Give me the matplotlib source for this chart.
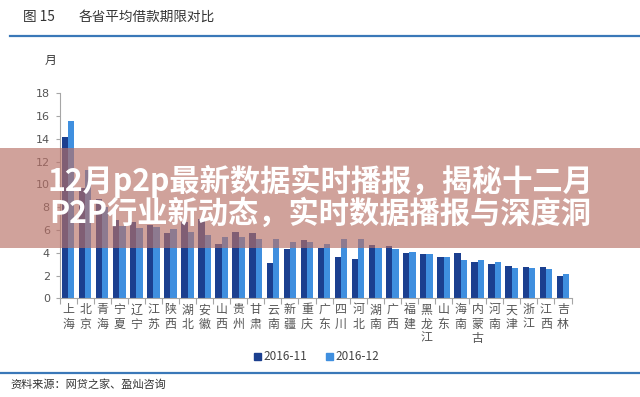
import matplotlib
matplotlib.use("Agg")
import matplotlib.pyplot as plt
import numpy as np
from matplotlib.patches import Rectangle
from matplotlib.lines import Line2D

plt.rcParams['font.family'] = ['Noto Sans CJK SC', 'DejaVu Sans']

provinces = ["上海", "北京", "青海", "宁夏", "辽宁", "江苏", "陕西", "湖北", "安徽", "山西",
             "贵州", "甘肃", "云南", "新疆", "重庆", "广东", "四川", "河北", "湖南", "广西",
             "福建", "黑龙江", "山东", "海南", "内蒙古", "河南", "天津", "浙江", "江西", "吉林"]
nov_2016 = [14.2, 9.7, 8.7, 6.9, 6.7, 6.4, 5.7, 6.7, 7.0, 4.8,
            5.85, 5.7, 3.1, 4.3, 5.1, 4.45, 3.6, 3.45, 4.65, 4.6,
            4.0, 3.85, 3.6, 3.95, 3.2, 3.0, 2.8, 2.75, 2.75, 1.95]
dec_2016 = [15.6, 11.3, 8.0, 6.35, 6.2, 6.3, 6.1, 5.85, 5.55, 5.4,
            5.35, 5.25, 5.2, 4.95, 4.9, 4.8, 5.2, 5.2, 4.4, 4.3,
            4.05, 3.85, 3.6, 3.4, 3.35, 3.2, 2.7, 2.7, 2.6, 2.15]
series_names = ["2016-11", "2016-12"]
y_ticks = [0, 2, 4, 6, 8, 10, 12, 14, 16, 18]

W, H = 640, 397
fig = plt.figure(figsize=(W / 100, H / 100), dpi=100)
fig.patch.set_facecolor('white')

def fx(px):
    return px / W

def fy(py):
    return 1 - py / H

ax = fig.add_axes([fx(59.5), fy(298.3), fx(512), (298.3 - 93.3) / H])
x = np.arange(len(provinces))
bw = 0.37
c_dark = '#1b3f8f'
c_light = '#3f8fdf'
ax.bar(x - bw / 2, nov_2016, width=bw, color=c_dark, zorder=2)
ax.bar(x + bw / 2, dec_2016, width=bw, color=c_light, zorder=2)

ax.set_xlim(-0.5, len(provinces) - 0.5)
ax.set_ylim(0, 18)
ax.set_yticks(y_ticks)
ax.set_yticklabels([str(v) for v in y_ticks], fontsize=8, color='#555555', family='DejaVu Sans')
ax.tick_params(axis='y', length=3, width=0.8, color='#a6a6a6', pad=4)
ax.set_xticks(np.arange(-0.5, len(provinces), 1.0))
ax.set_xticklabels([])
ax.tick_params(axis='x', length=4, width=0.8, color='#a6a6a6')
for s in ['top', 'right']:
    ax.spines[s].set_visible(False)
for s in ['left', 'bottom']:
    ax.spines[s].set_color('#a6a6a6')
    ax.spines[s].set_linewidth(0.8)

for i, name in enumerate(provinces):
    ax.text(i, -0.45, "\n".join(name), transform=ax.transData, ha='center', va='top',
            fontsize=8.6, color='#555555', linespacing=1.12, clip_on=False)

# title & headers
fig.text(fx(23), fy(17), "图 15", fontsize=9.8, color='#333333', va='center', ha='left')
fig.text(fx(79), fy(17), "各省平均借款期限对比", fontsize=9.8, color='#333333', va='center', ha='left')
fig.add_artist(Line2D([fx(10), 1.0], [fy(36), fy(36)], color='#3a78b8', lw=1.6))
fig.text(fx(45), fy(60), "月", fontsize=8.5, color='#333333', va='center', ha='left')

# legend
fig.add_artist(Rectangle((fx(254), fy(360)), fx(7), 7 / H, color=c_dark))
fig.text(fx(263), fy(356.5), series_names[0], fontsize=8.5, color='#444444', va='center', ha='left')
fig.add_artist(Rectangle((fx(326), fy(360)), fx(7), 7 / H, color=c_light))
fig.text(fx(335), fy(356.5), series_names[1], fontsize=8.5, color='#444444', va='center', ha='left')

# bottom line & source
fig.add_artist(Line2D([0.0, 1.0], [fy(373), fy(373)], color='#3a78b8', lw=1.6))
fig.text(fx(10), fy(385), "资料来源：网贷之家、盈灿咨询", fontsize=8, color='#333333', va='center', ha='left')

# overlay banner
fig.add_artist(Rectangle((0, fy(248)), 1, (248 - 148) / H, facecolor=(0.72, 0.44, 0.40),
                         alpha=0.65, edgecolor='none', zorder=10))
fig.text(0.5, fy(181), "12月p2p最新数据实时播报，揭秘十二月", fontsize=21.8, fontweight='bold',
         color='white', ha='center', va='center', zorder=11)
fig.text(0.5, fy(214), "P2P行业新动态，实时数据播报与深度洞", fontsize=21.8, fontweight='bold',
         color='white', ha='center', va='center', zorder=11)

fig.savefig("out.png", dpi=100)
